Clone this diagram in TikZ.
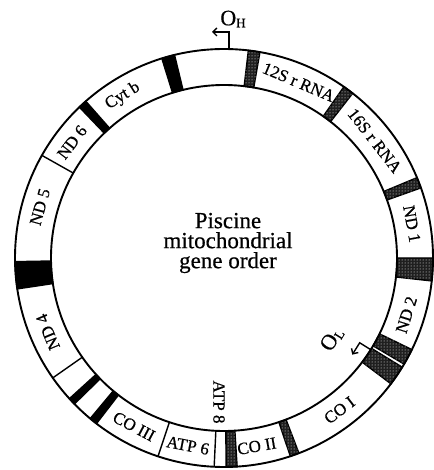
\documentclass[tikz,border=0pt]{standalone}
\usepackage{fontspec}
\setmainfont{Liberation Serif}[FakeBold=0.6]
\usetikzlibrary{arrows.meta,patterns}

\begin{document}
\begin{tikzpicture}[x=1pt,y=1pt,>={Straight Barb[length=4pt,width=8pt]},
  ring/.style={line width=1.9pt},
  seg/.style={line width=1.4pt},
  blackband/.style={seg,fill=black},
  hatchband/.style={seg,fill=black!88,postaction={pattern=dots,pattern color=white}},
  gene/.style={font=\fontsize{17}{17}\selectfont,inner sep=0pt},
  origin/.style={font=\fontsize{22}{22}\selectfont,inner sep=0pt}]
  \useasboundingbox (-224,-212) rectangle (209,258);

  % black bands (tRNA clusters)
  \foreach \a/\b in {103.7/107.3,131.4/133.8,-129.8/-127.6,-137.7/-135.7,-179/-171.5}
    \filldraw[blackband] (\a:173pt) arc[start angle=\a,end angle=\b,radius=173pt]
      -- (\b:209pt) arc[start angle=\b,end angle=\a,radius=209pt] -- cycle;
  % hatched bands
  \foreach \a/\b in {80.1/83.3,52/55,19.6/22.6,-6.3/0,-30.5/-26,-37/-31.5,-71.5/-69,-89.4/-86.4}
    \filldraw[hatchband] (\a:173pt) arc[start angle=\a,end angle=\b,radius=173pt]
      -- (\b:209pt) arc[start angle=\b,end angle=\a,radius=209pt] -- cycle;
  % plain gene boundaries
  \foreach \a in {150.6,-92.7,-108.4,-145}
    \draw[seg] (\a:173pt) -- (\a:209pt);

  \draw[ring] (0,0) circle[radius=209pt];
  \draw[ring] (0,0) circle[radius=173pt];

  % gene names
  \foreach \ang/\rot/\nm/\txt in {67/-23/rrnS/12S r RNA,37.9/-52/rrnL/16S r RNA,
      10.3/-79.7/nda/ND 1,-17.3/72.7/ndb/ND 2,-52.8/37.2/coa/CO I,-80.1/9.9/cob/CO II,
      -100.9/-10.9/atpf/ATP 6,-118.1/-28/coc/CO III,-157.2/112.8/ndd/ND 4,
      164.5/74.5/nde/ND 5,142.7/52.7/ndf/ND 6,122/32/cytb/Cyt b}
    \node[gene,rotate=\rot] (\nm) at (\ang:191pt) {\txt};
  \node[gene,rotate=-90] (atpe) at (-5,-144) {ATP 8};

  % replication origins
  \coordinate (ohBase) at (88.6:209pt);
  \coordinate (ohTip) at (-12,226);
  \draw[seg,->] (ohBase) |- (ohTip);
  \node[origin] (oh) at (9,239) {O\raisebox{-2pt}{\fontsize{13}{13}\selectfont H}};

  \coordinate (olBase) at (-32:173pt);
  \coordinate (olBend) at (-32:160pt);
  \draw[seg,->] (olBase) -- (olBend) -- ++(-122:14pt);
  \node[origin,rotate=58] (ol) at (-37:135pt) {O\raisebox{-2pt}{\fontsize{13}{13}\selectfont L}};

  \node[align=center,font=\fontsize{23}{20}\selectfont] (title) at (4,15)
    {Piscine\\mitochondrial\\gene order};
\end{tikzpicture}
\end{document}
